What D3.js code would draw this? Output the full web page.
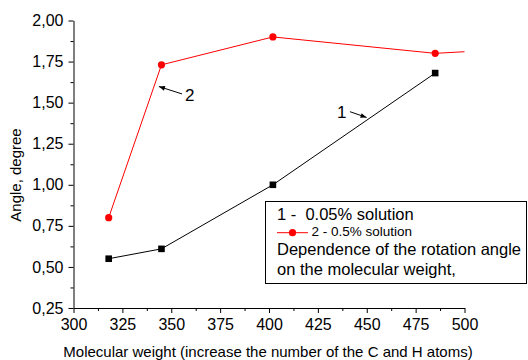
<!DOCTYPE html>
<html><head><meta charset="utf-8">
<script src="https://cdn.jsdelivr.net/npm/d3@7"></script>
<style>body{margin:0;background:#fff}svg{display:block}text{font-family:"Liberation Sans",Arial,sans-serif}</style>
</head><body><svg id="c" width="528" height="360"></svg>
<script>
// data
const weights1 = [318, 345, 402, 485];
const angles1 = [0.55, 0.61, 1.00, 1.68];
const weights2 = [318, 345, 402, 485, 500];
const angles2 = [0.80, 1.73, 1.90, 1.80, 1.81];
const marked2 = [true, true, true, true, false];
const xTicks = [300, 325, 350, 375, 400, 425, 450, 475, 500];
const yTicks = [0.25, 0.50, 0.75, 1.00, 1.25, 1.50, 1.75, 2.00];
const xLabel = "Molecular weight (increase the number of the C and H atoms)";
const yLabel = "Angle, degree";
const legendLines = ["1 -  0.05% solution", "2 - 0.5% solution", "Dependence of the rotation angle", "on the molecular weight,"];
// annotations in data units: [x1,y1,x2,y2,textX,textY,label]
const annotations = [
  {x1: 355.5, y1: 1.553, x2: 343.7, y2: 1.598, tx: 357.0, ty: 1.51, label: "2"},
  {x1: 441.4, y1: 1.445, x2: 449.9, y2: 1.41, tx: 434.8, ty: 1.408, label: "1"}
];

const svg = d3.select("#c");
const x = d3.scaleLinear().domain([300, 500]).range([73.5, 464.5]);
const y = d3.scaleLinear().domain([0.25, 2.0]).range([308, 20.5]);
const fmt = v => d3.format(".2f")(v).replace(".", ",");

svg.append("defs").append("marker").attr("id", "ah").attr("viewBox", "0 0 10 10")
  .attr("refX", 10).attr("refY", 5).attr("markerWidth", 8).attr("markerHeight", 6)
  .attr("markerUnits", "userSpaceOnUse").attr("orient", "auto")
  .append("path").attr("d", "M0,1 L10,5 L0,9 Z").attr("fill", "#000");

// minor ticks
const xMinor = xTicks.slice(0, -1).map(v => v + 12.5);
const yMinor = yTicks.slice(0, -1).map(v => v + 0.125);
svg.append("g").attr("transform", `translate(0,${y(0.25)})`)
  .call(d3.axisBottom(x).tickValues(xMinor).tickSize(3).tickFormat(""))
  .call(g => g.select(".domain").remove());
svg.append("g").attr("transform", `translate(${x(300)},0)`)
  .call(d3.axisLeft(y).tickValues(yMinor).tickSize(3).tickFormat(""))
  .call(g => g.select(".domain").remove());

const xa = svg.append("g").attr("transform", `translate(0,${y(0.25)})`)
  .call(d3.axisBottom(x).tickValues(xTicks).tickSize(5).tickSizeOuter(0).tickPadding(5.6).tickFormat(d3.format("d")));
const ya = svg.append("g").attr("transform", `translate(${x(300)},0)`)
  .call(d3.axisLeft(y).tickValues(yTicks).tickSize(5).tickSizeOuter(0).tickPadding(5).tickFormat(fmt));
[xa, ya].forEach(g => {
  g.selectAll("text").attr("font-size", 16).attr("fill", "#000").style("font-family", '"Liberation Sans",Arial,sans-serif');
  g.selectAll("line,path").attr("stroke", "#000");
});
svg.selectAll("g line").attr("stroke", "#000");

// axis labels
svg.append("text").attr("x", 268).attr("y", 356.5).attr("text-anchor", "middle")
  .attr("font-size", 15).text(xLabel);
svg.append("text").attr("transform", "translate(20.5,175) rotate(-90)").attr("text-anchor", "middle")
  .attr("font-size", 15).text(yLabel);

// series
const line = d3.line().x(d => x(d[0])).y(d => y(d[1]));
const s1 = weights1.map((w, i) => [w, angles1[i]]);
const s2 = weights2.map((w, i) => [w, angles2[i]]);
svg.append("path").attr("d", line(s1)).attr("fill", "none").attr("stroke", "#000").attr("stroke-width", 1);
svg.append("path").attr("d", line(s2)).attr("fill", "none").attr("stroke", "#ff0000").attr("stroke-width", 1);
svg.selectAll(".sq").data(s1).join("rect").attr("x", d => x(d[0]) - 3.3).attr("y", d => y(d[1]) - 3.3)
  .attr("width", 6.6).attr("height", 6.6).attr("fill", "#000");
svg.selectAll(".ci").data(s2.filter((d, i) => marked2[i])).join("circle")
  .attr("cx", d => x(d[0])).attr("cy", d => y(d[1])).attr("r", 3.6).attr("fill", "#ff0000");

// annotations
annotations.forEach(a => {
  svg.append("line").attr("x1", x(a.x1)).attr("y1", y(a.y1)).attr("x2", x(a.x2)).attr("y2", y(a.y2))
    .attr("stroke", "#000").attr("stroke-width", 1).attr("marker-end", "url(#ah)");
  svg.append("text").attr("x", x(a.tx)).attr("y", y(a.ty)).attr("font-size", 17).text(a.label);
});

// legend box
const lg = svg.append("g");
lg.append("rect").attr("x", 265.5).attr("y", 201.5).attr("width", 261).attr("height", 82)
  .attr("fill", "#fff").attr("stroke", "#000").attr("stroke-width", 1);
lg.append("text").attr("x", 277).attr("y", 220).attr("font-size", 16.5).style("white-space", "pre").text(legendLines[0]);
lg.append("line").attr("x1", 277).attr("x2", 308).attr("y1", 232.7).attr("y2", 232.7).attr("stroke", "#ff0000");
lg.append("circle").attr("cx", 292.5).attr("cy", 232.7).attr("r", 3.6).attr("fill", "#ff0000");
lg.append("text").attr("x", 311.5).attr("y", 235.7).attr("font-size", 13.5).text(legendLines[1]);
lg.append("text").attr("x", 277).attr("y", 255).attr("font-size", 16.5).text(legendLines[2]);
lg.append("text").attr("x", 277).attr("y", 274.5).attr("font-size", 16.5).text(legendLines[3]);
</script></body></html>
